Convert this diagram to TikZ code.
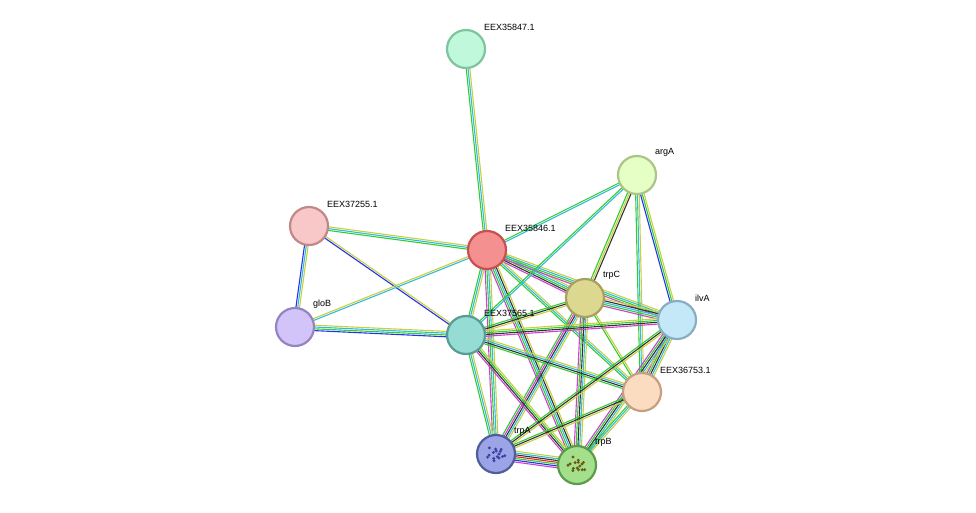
\documentclass[tikz,border=0pt]{standalone}
\usepackage{fontspec}
\setmainfont{Liberation Sans}
\usetikzlibrary{calc}
\definecolor{cG}{HTML}{33CC33}
\definecolor{cC}{HTML}{33BBDD}
\definecolor{cY}{HTML}{C8D040}
\definecolor{cB}{HTML}{2233EE}
\definecolor{cM}{HTML}{D040D0}
\definecolor{cK}{HTML}{333333}
\definecolor{cR}{HTML}{EE2222}
\definecolor{dA}{HTML}{4040A0}
\definecolor{dB}{HTML}{6A5A10}
\tikzset{prot/.style={circle,minimum size=38pt,inner sep=0pt,line width=2.2pt},
 lbl/.style={anchor=south west,font=\fontsize{9}{11}\selectfont,inner sep=0pt}}
\newcommand\pedge[4]{%
 \foreach[count=\i] \c in {#4}{%
  \pgfmathsetmacro\off{(\i-(#3+1)/2)*1.8}%
  \draw[\c,line width=1.1pt] ($(#1)!\off pt!90:(#2)$) -- ($(#2)!\off pt!-90:(#1)$);}}
\newcommand\prot[5]{\definecolor{f#1}{HTML}{#4}\definecolor{d#1}{HTML}{#5}%
 \node[prot,fill=f#1,draw=d#1] (#1) at (#2) {};
 \node[lbl] (#1l) at ($(#2)+(18,-18)$) {#3};}
\begin{document}
\begin{tikzpicture}[x=1pt,y=-1pt]
\fill[white] (0,0) rectangle (976,512);
\useasboundingbox (0,0) rectangle (976,512);
\coordinate (p47) at (466,49);
\coordinate (pargA) at (637,175);
\coordinate (p55) at (309,226);
\coordinate (p46) at (487,250);
\coordinate (ptrpC) at (585,298);
\coordinate (pgloB) at (295,327);
\coordinate (p65) at (466,335);
\coordinate (pilvA) at (677,320);
\coordinate (p53) at (642,392);
\coordinate (ptrpA) at (496,454);
\coordinate (ptrpB) at (577,465);
\pedge{p47}{p46}{3}{cG,cC,cY}
\pedge{p55}{p46}{3}{cG,cC,cY}
\pedge{p55}{pgloB}{3}{cB,cC,cY}
\pedge{p55}{p65}{2}{cB,cY}
\pedge{pgloB}{p65}{4}{cB,cG,cC,cY}
\pedge{pgloB}{p46}{2}{cC,cY}
\pedge{p46}{pargA}{2}{cC,cG}
\pedge{p46}{ptrpC}{5}{cM,cK,cG,cC,cY}
\pedge{p46}{pilvA}{4}{cM,cG,cC,cY}
\pedge{p46}{p53}{3}{cG,cC,cY}
\pedge{p46}{p65}{3}{cG,cC,cY}
\pedge{p46}{ptrpA}{4}{cM,cG,cC,cY}
\pedge{p46}{ptrpB}{5}{cM,cG,cC,cK,cY}
\pedge{pargA}{ptrpC}{3}{cG,cY,cK}
\pedge{pargA}{pilvA}{3}{cB,cG,cY}
\pedge{pargA}{p53}{3}{cG,cC,cY}
\pedge{pargA}{p65}{2}{cG,cC}
\pedge{ptrpC}{pilvA}{5}{cM,cG,cC,cK,cY}
\pedge{ptrpC}{p53}{2}{cG,cY}
\pedge{ptrpC}{p65}{3}{cG,cK,cY}
\pedge{ptrpC}{ptrpA}{5}{cG,cM,cK,cC,cY}
\pedge{ptrpC}{ptrpB}{5}{cM,cG,cK,cC,cY}
\pedge{p65}{pilvA}{4}{cM,cK,cG,cY}
\pedge{p65}{p53}{4}{cG,cK,cC,cY}
\pedge{p65}{ptrpA}{3}{cG,cC,cY}
\pedge{p65}{ptrpB}{4}{cM,cK,cG,cY}
\pedge{pilvA}{p53}{5}{cM,cG,cK,cC,cY}
\pedge{pilvA}{ptrpA}{3}{cG,cK,cY}
\pedge{pilvA}{ptrpB}{5}{cM,cG,cK,cC,cY}
\pedge{p53}{ptrpA}{3}{cG,cK,cY}
\pedge{p53}{ptrpB}{3}{cG,cC,cY}
\pedge{ptrpA}{ptrpB}{7}{cM,cB,cG,cR,cK,cC,cY}
\prot{n47}{p47}{EEX35847.1}{C0F8DC}{7FC49E}
\prot{nargA}{pargA}{argA}{E6FFC4}{A9C688}
\prot{n55}{p55}{EEX37255.1}{F8C8C8}{C08888}
\prot{n46}{p46}{EEX35846.1}{F49090}{C85050}
\prot{ntrpC}{ptrpC}{trpC}{DCD890}{A8A060}
\prot{ngloB}{pgloB}{gloB}{D2C4F8}{9484C0}
\prot{n65}{p65}{EEX37565.1}{94DCD4}{5A9C94}
\prot{nilvA}{pilvA}{ilvA}{C4E8F8}{88AEC4}
\prot{n53}{p53}{EEX36753.1}{FCDCC0}{C4A080}
\prot{ntrpA}{ptrpA}{trpA}{9CA4E8}{505C9C}
\prot{ntrpB}{ptrpB}{trpB}{A4E08C}{5C9C48}
\foreach \k in {0,...,14}{\pgfmathsetmacro\a{\k*53}\pgfmathsetmacro\r{3+mod(\k,4)*2}
 \fill[dA] ($(ptrpA)+(\a:\r)$) circle (1.6);
 \fill[dB] ($(ptrpB)+(\a+20:\r)$) circle (1.6);}
\end{tikzpicture}
\end{document}
